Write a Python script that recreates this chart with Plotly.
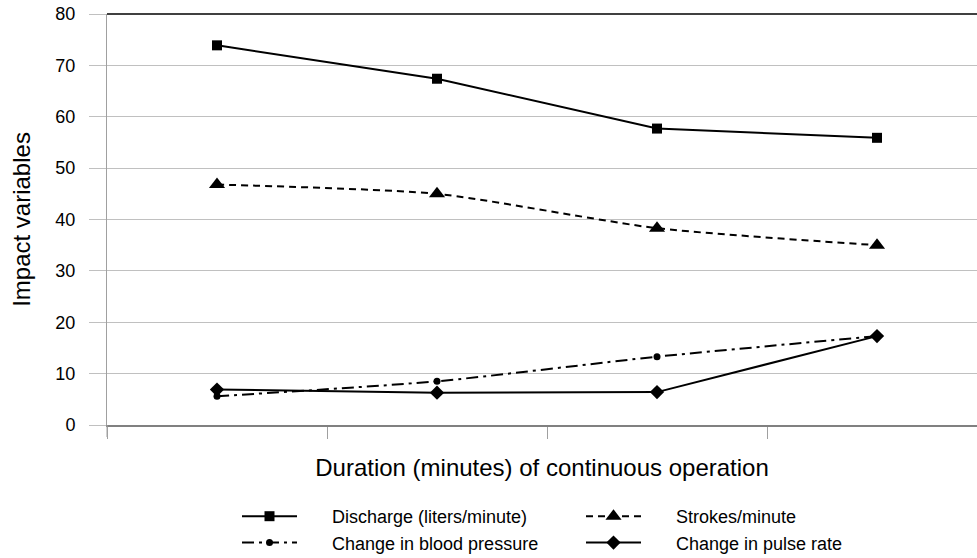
import plotly.graph_objects as go

x_idx = [0, 1, 2, 3]
discharge = [73.9, 67.4, 57.7, 55.9]
strokes = [46.8, 45.0, 38.3, 35.0]
blood_pressure = [5.6, 8.5, 13.3, 17.3]
pulse_rate = [6.9, 6.3, 6.4, 17.3]

y_ticks = [0, 10, 20, 30, 40, 50, 60, 70, 80]
x_tick_bounds = [-0.5, 0.5, 1.5, 2.5, 3.5]

FONT = "Liberation Sans, Arial, sans-serif"
PAD = "      "

W, H = 977, 558
ML, MR, MT, MB = 107, 0, 14, 0
AX_BOTTOM = 425  # pixel y of the x axis
plot_h = H - MT - MB
plot_w = W - ML - MR
y_dom0 = (H - MB - AX_BOTTOM) / plot_h


def px_x(p):
    return (p - ML) / plot_w


def px_y(p):
    return (H - MB - p) / plot_h


fig = go.Figure()
fig.add_trace(go.Scatter(
    x=x_idx, y=discharge, name=PAD + "Discharge (liters/minute)",
    mode="lines+markers", line=dict(color="black", width=2),
    marker=dict(symbol="square", size=10, color="black"),
    legend="legend"))
fig.add_trace(go.Scatter(
    x=x_idx, y=strokes, name=PAD + "Strokes/minute",
    mode="lines+markers", line=dict(color="black", width=2, dash="7px,5px", shape="spline", smoothing=0.6),
    marker=dict(symbol="triangle-up", size=14, color="black"),
    legend="legend2"))
fig.add_trace(go.Scatter(
    x=x_idx, y=blood_pressure, name=PAD + "Change in blood pressure",
    mode="lines+markers", line=dict(color="black", width=2, dash="12px,5px,3px,5px", shape="spline", smoothing=0.6),
    marker=dict(symbol="circle", size=7, color="black"),
    legend="legend"))
fig.add_trace(go.Scatter(
    x=x_idx, y=pulse_rate, name=PAD + "Change in pulse rate",
    mode="lines+markers", line=dict(color="black", width=2),
    marker=dict(symbol="diamond", size=11, color="black"),
    legend="legend2"))

fig.update_layout(
    width=W, height=H,
    margin=dict(l=ML, r=MR, t=MT, b=MB, autoexpand=False),
    paper_bgcolor="white", plot_bgcolor="white",
    font=dict(family=FONT, color="black", size=18),
    showlegend=True,
    legend=dict(x=px_x(237), y=px_y(498), xanchor="left", yanchor="top",
                font=dict(family=FONT, size=18), itemwidth=55,
                tracegroupgap=0, bgcolor="rgba(0,0,0,0)"),
    legend2=dict(x=px_x(581), y=px_y(498), xanchor="left", yanchor="top",
                 font=dict(family=FONT, size=18), itemwidth=55,
                 tracegroupgap=0, bgcolor="rgba(0,0,0,0)"),
    xaxis=dict(range=[-0.5, 3.4545], tickvals=x_tick_bounds, showticklabels=False,
               ticks="outside", ticklen=12, tickcolor="#a0a0a0", tickwidth=1,
               showgrid=False, zeroline=False, showline=True, linecolor="#808080", linewidth=2,
               automargin=False, anchor="y",
               title=dict(text="Duration (minutes) of continuous operation",
                          font=dict(family=FONT, size=24), standoff=21)),
    yaxis=dict(range=[0, 80], domain=[y_dom0, 1], tickvals=y_ticks, ticks="outside", ticklen=17,
               tickcolor="#c0c0c0", tickwidth=1,
               showgrid=True, gridcolor="#c0c0c0", gridwidth=1, zeroline=False,
               showline=True, linecolor="#a0a0a0", linewidth=1,
               automargin=False,
               tickfont=dict(family=FONT, size=18), ticklabelstandoff=10,
               title=dict(text="Impact variables", font=dict(family=FONT, size=24), standoff=17)),
)
fig.add_shape(type="line", xref="paper", yref="paper", x0=0, x1=1, y0=1, y1=1,
              line=dict(color="black", width=1.5))
fig.add_shape(type="line", xref="paper", yref="paper", x0=0, x1=0,
              y0=y_dom0, y1=px_y(AX_BOTTOM + 12),
              line=dict(color="#a0a0a0", width=1))

fig.write_html("out.html", config={"displayModeBar": False},
               post_script="document.body.style.margin='0px';")
